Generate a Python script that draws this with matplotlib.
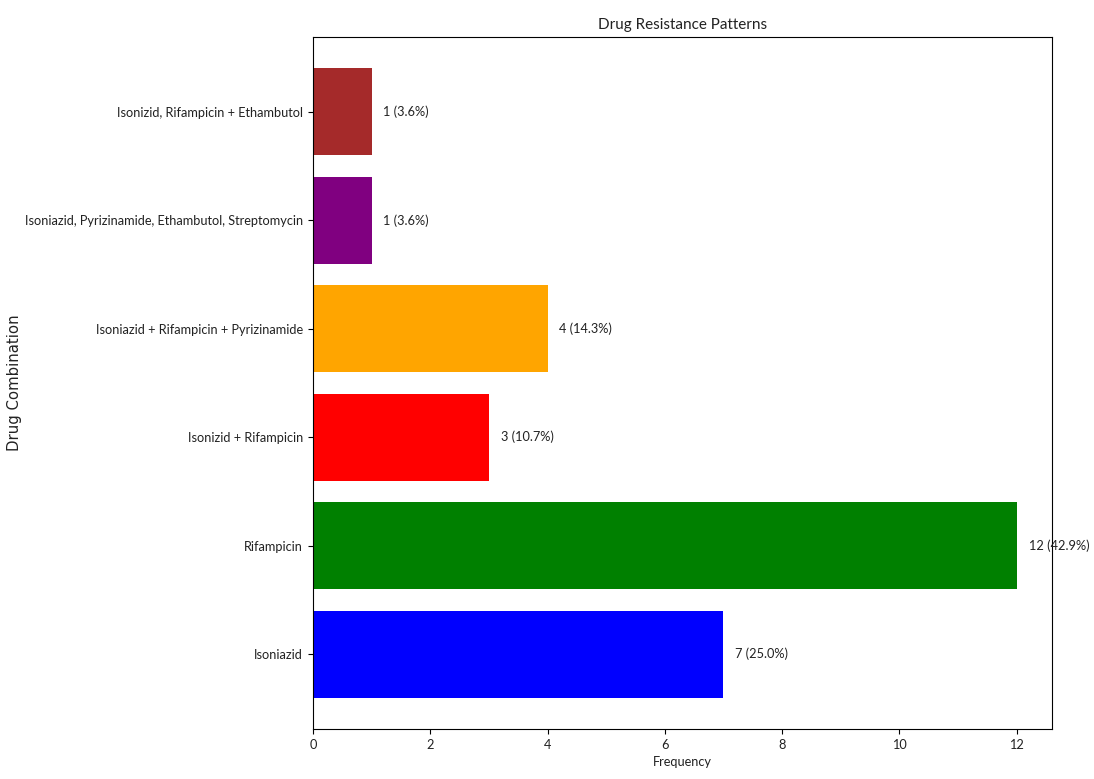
import matplotlib
matplotlib.use("Agg")
import matplotlib.pyplot as plt

categories = ["Isoniazid", "Rifampicin", "Isonizid + Rifampicin",
              "Isoniazid + Rifampicin + Pyrizinamide",
              "Isoniazid, Pyrizinamide, Ethambutol, Streptomycin",
              "Isonizid, Rifampicin + Ethambutol"]
counts = [7, 12, 3, 4, 1, 1]
colors = ["blue", "green", "red", "orange", "purple", "brown"]
total = 28

narrow = ["Lato", "DejaVu Sans"]
ink = "#222222"

fig = plt.figure(figsize=(10.94, 7.79), dpi=100)
ax = fig.add_axes([0.286, 0.0642, 0.6756, 0.8883])
ax.barh(categories, counts, color=colors)
ann = []
for i, c in enumerate(counts):
    ann.append(ax.text(c + 0.2, i, f"{c} ({c / total * 100:.1f}%)", va="center", ha="left",
                       family=narrow, fontsize=10, color=ink))

title = ax.set_title("Drug Resistance Patterns", family=narrow, fontsize=12, color=ink)
xl = ax.set_xlabel("Frequency", family=narrow, fontsize=10, color=ink)
yl = ax.set_ylabel("Drug Combination", family="DejaVu Sans", fontsize=10, color=ink)
ax.yaxis.set_label_coords(-0.393, 0.5)
for lab in ax.get_xticklabels() + ax.get_yticklabels():
    lab.set_family(narrow)
    lab.set_fontsize(10)
    lab.set_color(ink)

fig.canvas.draw()
r = fig.canvas.get_renderer()

def fit(t, target, vertical=False):
    bb = t.get_window_extent(r)
    cur = bb.height if vertical else bb.width
    return t.get_fontsize() * target / cur

ylabs = ax.get_yticklabels()
long_lab = [l for l in ylabs if l.get_text().startswith("Isoniazid, P")][0]
tick_size = fit(long_lab, 278)
for lab in ax.get_xticklabels() + ylabs:
    lab.set_fontsize(tick_size)
for a in ann:
    a.set_fontsize(tick_size)
title.set_fontsize(tick_size * 1.2)
xl.set_fontsize(tick_size)
yl.set_fontsize(fit(yl, 148, vertical=True) * 0.92)

fig.savefig("out.png", dpi=100)
